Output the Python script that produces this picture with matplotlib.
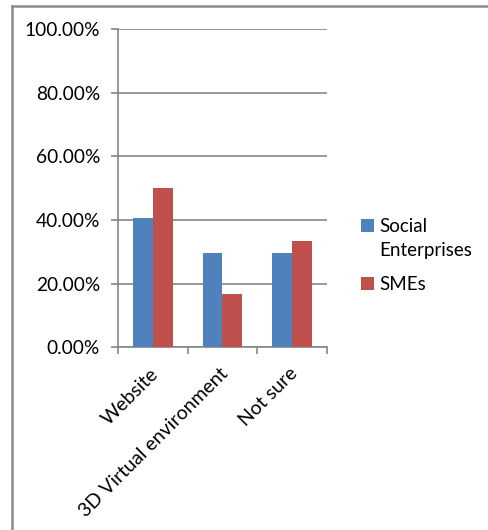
import matplotlib.pyplot as plt
from matplotlib.ticker import PercentFormatter
from matplotlib.lines import Line2D
import numpy as np

plt.rcParams['font.family'] = ['Lato', 'DejaVu Sans']

categories = ['Website', '3D Virtual environment', 'Not sure']
social_ent = [40.74, 29.63, 29.63]
smes = [50.0, 16.67, 33.33]
series_names = ['Social\nEnterprises', 'SMEs']
colors = ['#4F81BD', '#C0504D']
grid_col = '#868686'

fig = plt.figure(figsize=(4.89, 5.30), dpi=100)
ax = fig.add_axes([0.2413, 0.3447, 0.4274, 0.6006])

x = np.arange(len(categories))
w = 1 / 3.5
ax.bar(x - w / 2, social_ent, w, color=colors[0], label=series_names[0], zorder=3)
ax.bar(x + w / 2, smes, w, color=colors[1], label=series_names[1], zorder=3)

ax.set_xlim(-0.5, len(categories) - 0.5)
ax.set_ylim(0, 100)
ax.set_yticks(np.arange(0, 101, 20))
ax.yaxis.set_major_formatter(PercentFormatter(decimals=2))
ax.grid(axis='y', color=grid_col, linewidth=1.2, zorder=0)

for s in ['top', 'right']:
    ax.spines[s].set_visible(False)
for s in ['left', 'bottom']:
    ax.spines[s].set_color(grid_col)
    ax.spines[s].set_linewidth(1.2)

ax.tick_params(axis='y', length=5, width=1.2, color=grid_col, pad=8, labelsize=13.8)
# category boundaries carry the x ticks, names sit at centres
ax.set_xticks(np.arange(-0.5, len(categories), 1))
ax.set_xticklabels([])
ax.tick_params(axis='x', length=5, width=1.2, color=grid_col)
for i, name in enumerate(categories):
    ax.annotate(name, xy=(i, 0), xycoords=('data', 'axes fraction'),
                xytext=(2, -17), textcoords='offset points',
                rotation=45, rotation_mode='anchor', ha='right', va='center',
                fontsize=14)

leg = fig.legend(loc='upper left', bbox_to_anchor=(0.703, 0.62), frameon=False,
                 fontsize=13.5, handlelength=0.7, handleheight=0.7,
                 handletextpad=0.3, labelspacing=0.95)
for t in leg.get_texts():
    t.set_linespacing(1.45)
# put the first square level with the first line of its label
first = leg.get_patches()[0]
first.set_y(first.get_y() + 9.5)

# outer chart border (top and left edges visible)
fig.add_artist(Line2D([12 / 489, 12 / 489], [0, 1 - 6 / 530], color='#8c8c8c', linewidth=1.8))
fig.add_artist(Line2D([12 / 489, 1], [1 - 6 / 530, 1 - 6 / 530], color='#8c8c8c', linewidth=1.8))

fig.savefig('out.png', dpi=100)
